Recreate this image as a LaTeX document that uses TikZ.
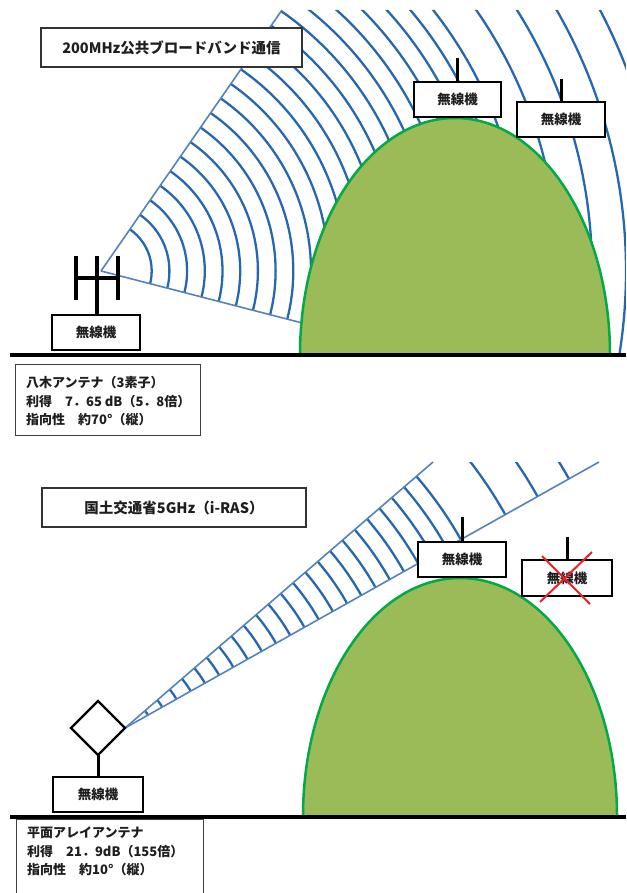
\documentclass[tikz,border=0pt]{standalone}
\usepackage{fontspec}
\setmainfont{Noto Sans CJK JP}
\definecolor{wavecol}{RGB}{38,104,176}
\definecolor{edgecol}{RGB}{84,130,190}
\definecolor{hillgreen}{RGB}{155,187,89}
\definecolor{hillline}{RGB}{0,170,70}
\definecolor{crossred}{RGB}{240,30,40}
\definecolor{inkgray}{RGB}{30,30,30}
\begin{document}
\begin{tikzpicture}[x=1pt,y=-1pt,
  wave/.style={draw=wavecol, line width=2.3pt},
  beamedge/.style={draw=edgecol, line width=1.6pt},
  hilledge/.style={draw=hillline, line width=2.5pt},
  radio/.style={draw=black, line width=2pt, fill=white, minimum width=88pt,
    minimum height=35pt, inner sep=0pt, text=inkgray,
    font=\fontsize{13.5}{16}\selectfont\bfseries},
  mast/.style={draw=black, line width=3pt},
  antenna/.style={draw=black, line width=3.2pt},
  titlebox/.style={draw=black!80, line width=1.3pt, fill=white, minimum height=39pt,
    inner sep=0pt, text=inkgray, font=\fontsize{14.5}{17}\selectfont\bfseries},
  infotext/.style={anchor=west, align=left, inner sep=0pt, text=inkgray,
    font=\fontsize{13}{18.5}\selectfont\bfseries},
  infoframe/.style={draw=black!75, line width=1pt},
  ground/.style={draw=black, line width=4pt},
  cross/.style={draw=crossred, line width=2pt},
]
\useasboundingbox (0,0) rectangle (626,893);
\begin{scope}
\clip (0,0) rectangle (626,893);

% ---------- 200 MHz: Yagi antenna, wide fan ----------
\coordinate (fanA) at (101,271);
\coordinate (fanU) at (282,10);
\coordinate (fanL) at (310,325);
\begin{scope}
  \clip (fanA) -- (fanU) -- (626,10) -- (626,355) -- (422,355) -- cycle;
  \foreach \k in {0,...,21}
    \draw[wave] (fanA) circle[radius={50.7+17.7*\k}];
  \foreach \r in {457,491,525,563}
    \draw[wave] (fanA) circle[radius=\r];
\end{scope}
\draw[beamedge] (fanA) -- (fanU);
\draw[beamedge] (fanA) -- (fanL);

% hill
\fill[hillgreen] (300,355) .. controls (300,224) and (369.4,118) .. (455,118)
  .. controls (540.6,118) and (610,224) .. (610,355) -- cycle;
\draw[hilledge] (300,355) .. controls (300,224) and (369.4,118) .. (455,118)
  .. controls (540.6,118) and (610,224) .. (610,355);

\node[titlebox, minimum width=261pt] (titleA) at (171.5,47.5) {200MHz公共ブロードバンド通信};

% Yagi antenna and transmitter
\node[radio] (txA) at (96,332.5) {無線機};
\draw[antenna] (76,256) -- (76,300);
\draw[antenna] (118,256) -- (118,300);
\draw[antenna] (76,278) -- (118,278);
\draw[antenna] (97,256) -- (txA.north -| 97,0);

% receivers on the hill
\node[radio, minimum width=87pt] (rxA1) at (457.5,99.5) {無線機};
\node[radio] (rxA2) at (561,119.5) {無線機};
\draw[mast] (rxA1.north) -- ++(0,-23);
\draw[mast] (rxA2.north) -- ++(0,-22);

\draw[ground] (10,355) -- (626,355);

\draw[infoframe] (15,364) rectangle (200,435);
\node[infotext] (infoA) at (26,401.5) {八木アンテナ（3素子）\\利得　7．65 dB（5．8倍）\\指向性　約70°（縦）};

% ---------- 5 GHz: planar array, narrow beam ----------
\coordinate (beamB) at (125,728);
\coordinate (beamU) at (433,462);
\coordinate (beamL) at (599,462);
\begin{scope}
  \clip (beamB) -- (beamU) -- (beamL) -- cycle;
  \foreach \k in {0,...,22}
    \draw[wave] (beamB) circle[radius={26.4+16.3*\k}];
  \foreach \r in {436,473,509}
    \draw[wave] (beamB) circle[radius=\r];
\end{scope}
\draw[beamedge] (beamB) -- (beamU);
\draw[beamedge] (beamB) -- (beamL);

% hill
\fill[hillgreen] (303,816.5) .. controls (303,684.8) and (373.3,578) .. (460,578)
  .. controls (546.7,578) and (617,684.8) .. (617,816.5) -- cycle;
\draw[hilledge] (303,816.5) .. controls (303,684.8) and (373.3,578) .. (460,578)
  .. controls (546.7,578) and (617,684.8) .. (617,816.5);

\node[titlebox, minimum width=264pt] (titleB) at (174,507.5) {国土交通省5GHz（i-RAS）};

% planar antenna and transmitter
\node[radio, minimum width=90pt] (txB) at (98,794.5) {無線機};
\draw[black, line width=2.2pt] (98,701) -- (125,728) -- (98,755) -- (71,728) -- cycle;
\draw[mast] (98,755) -- (txB.north);

% receivers on the hill
\node[radio] (rxB1) at (462,559.5) {無線機};
\node[radio, minimum width=90pt, minimum height=36pt] (rxB2) at (567,578) {無線機};
\draw[mast] (rxB1.north) -- ++(0,-24);
\draw[mast] (rxB2.north) -- ++(0,-22);
\draw[cross] (542,556) -- (590,604);
\draw[cross] (592,552) -- (540,602);

\draw[ground] (10,816.5) -- (626,816.5);

\draw[infoframe] (16,819) rectangle (203,910);
\node[infotext] (infoB) at (27,851.5) {平面アレイアンテナ\\利得　21．9dB（155倍）\\指向性　約10°（縦）};
\end{scope}
\end{tikzpicture}
\end{document}
